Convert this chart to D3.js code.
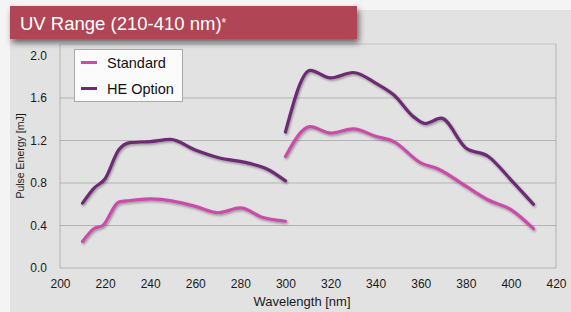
<!DOCTYPE html>
<html>
<head>
<meta charset="utf-8">
<script src="https://cdn.jsdelivr.net/npm/d3@7"></script>
<style>
  body { margin: 0; background: #f4f4f4; }
  svg { display: block; font-family: "Liberation Sans", Arial, sans-serif; }
</style>
</head>
<body>
<div id="chart"></div>
<script>
// Values
const seriesNames = ["Standard", "HE Option"];
const seriesColors = ["#cb4bab", "#6d2a74"];

const stdWave1 = [210, 215, 219, 226, 231, 240, 250, 260, 270, 280, 290, 300];
const stdEnergy1 = [0.25, 0.37, 0.40, 0.62, 0.635, 0.65, 0.63, 0.58, 0.52, 0.565, 0.475, 0.44];
const stdWave2 = [300, 311, 320, 330, 340, 348, 360, 368, 380, 390, 400, 410];
const stdEnergy2 = [1.05, 1.33, 1.27, 1.31, 1.24, 1.19, 0.99, 0.93, 0.77, 0.64, 0.55, 0.37];

const heWave1 = [210, 215, 220, 226, 231, 240, 249, 260, 270, 284, 292, 300];
const heEnergy1 = [0.61, 0.75, 0.84, 1.11, 1.18, 1.19, 1.21, 1.11, 1.04, 0.985, 0.93, 0.82];
const heWave2 = [300, 311, 320, 330, 340, 348, 357, 362, 369, 380, 390, 400, 410];
const heEnergy2 = [1.28, 1.86, 1.79, 1.84, 1.74, 1.63, 1.42, 1.36, 1.41, 1.13, 1.05, 0.83, 0.60];

const xTicks = [200, 220, 240, 260, 280, 300, 320, 340, 360, 380, 400, 420];
const yTicks = [0.0, 0.4, 0.8, 1.2, 1.6, 2.0];
const title = "UV Range (210-410 nm)";
const xLabel = "Wavelength [nm]";
const yLabel = "Pulse Energy [mJ]";

const width = 571, height = 312;
const plotLeft = 60, plotRight = 556, plotBottom = 268, plotTop = 55.5;

const svg = d3.select("#chart").append("svg")
    .attr("width", width)
    .attr("height", height);

const defs = svg.append("defs");
defs.append("filter").attr("id", "bannerShadow")
    .attr("x", "-10%").attr("y", "-30%").attr("width", "130%").attr("height", "180%")
    .append("feDropShadow")
    .attr("dx", 2).attr("dy", 4).attr("stdDeviation", 3)
    .attr("flood-color", "#000").attr("flood-opacity", 0.55);
defs.append("filter").attr("id", "lineShadow")
    .attr("x", "-10%").attr("y", "-10%").attr("width", "120%").attr("height", "130%")
    .append("feDropShadow")
    .attr("dx", 1).attr("dy", 1.5).attr("stdDeviation", 1)
    .attr("flood-color", "#000").attr("flood-opacity", 0.35);

// panel
svg.append("rect")
    .attr("x", 10).attr("y", 10)
    .attr("width", width - 10).attr("height", height - 10)
    .attr("fill", "#e2e2e2");

let x = d3.scaleLinear().domain([200, 420]).range([plotLeft, plotRight]);
let y = d3.scaleLinear().domain([0, 2]).range([plotBottom, plotTop]);

// gridlines
svg.append("g")
    .selectAll("line")
    .data(yTicks.filter(d => d > 0 && d < 2))
    .enter()
    .append("line")
    .attr("x1", plotLeft).attr("x2", plotRight)
    .attr("y1", d => y(d)).attr("y2", d => y(d))
    .style("stroke", "#b3b3b3")
    .style("stroke-width", 1);

// frame
svg.append("path")
    .attr("d", `M${plotLeft},44V${plotBottom}H${plotRight}V44`)
    .style("fill", "none")
    .style("stroke", "#b3b3b3")
    .style("stroke-width", 1);
svg.append("line")
    .attr("x1", plotLeft).attr("x2", plotRight).attr("y1", 44).attr("y2", 44)
    .style("stroke", "#c4c4c4");

// axes labels via d3 axes
let xAxis = svg.append("g")
    .attr("transform", `translate(0,${plotBottom})`)
    .call(d3.axisBottom(x).tickValues(xTicks).tickSize(0).tickPadding(11).tickFormat(d3.format("d")));
xAxis.select(".domain").remove();
xAxis.selectAll("text").style("font-size", "12px").style("fill", "#1a1a1a").style("font-family", "Liberation Sans, Arial, sans-serif");

let yAxis = svg.append("g")
    .attr("transform", `translate(${plotLeft},0)`)
    .call(d3.axisLeft(y).tickValues(yTicks).tickSize(0).tickPadding(13).tickFormat(d3.format(".1f")));
yAxis.select(".domain").remove();
yAxis.selectAll("text").style("font-size", "12px").style("fill", "#1a1a1a").style("font-family", "Liberation Sans, Arial, sans-serif");

svg.append("text")
    .attr("x", 302).attr("y", 306)
    .attr("text-anchor", "middle")
    .style("font-size", "13px").style("fill", "#1a1a1a")
    .text(xLabel);

svg.append("text")
    .attr("transform", "translate(24,156) rotate(-90)")
    .attr("text-anchor", "middle")
    .style("font-size", "10.5px").style("fill", "#1a1a1a")
    .text(yLabel);

// lines
let line = d3.line()
    .x(d => x(d[0]))
    .y(d => y(d[1]))
    .curve(d3.curveMonotoneX);

const segments = [
    {s: 0, w: stdWave1, e: stdEnergy1},
    {s: 0, w: stdWave2, e: stdEnergy2},
    {s: 1, w: heWave1, e: heEnergy1},
    {s: 1, w: heWave2, e: heEnergy2}
];

svg.append("g")
    .attr("filter", "url(#lineShadow)")
    .selectAll("path")
    .data(segments)
    .enter()
    .append("path")
    .attr("d", d => line(d.w.map((v, i) => [v, d.e[i]])))
    .style("fill", "none")
    .style("stroke", d => seriesColors[d.s])
    .style("stroke-width", 3.2)
    .style("stroke-linecap", "round")
    .style("stroke-linejoin", "round");

// legend
let legend = svg.append("g");
legend.append("rect")
    .attr("x", 74.5).attr("y", 49.5)
    .attr("width", 108).attr("height", 52)
    .style("fill", "#fbfbfb")
    .style("stroke", "#a8a8a8");
legend.selectAll("line")
    .data(seriesNames)
    .enter()
    .append("line")
    .attr("x1", 81).attr("x2", 97)
    .attr("y1", (d, i) => 62.5 + i * 26).attr("y2", (d, i) => 62.5 + i * 26)
    .style("stroke", (d, i) => seriesColors[i])
    .style("stroke-width", 3);
legend.selectAll("text")
    .data(seriesNames)
    .enter()
    .append("text")
    .attr("x", 107)
    .attr("y", (d, i) => 67.5 + i * 26)
    .style("font-size", "14.5px").style("fill", "#111")
    .text(d => d);

// title banner
svg.append("rect")
    .attr("x", 10).attr("y", 6)
    .attr("width", 347).attr("height", 33)
    .attr("fill", "#b04555")
    .attr("filter", "url(#bannerShadow)");
let t = svg.append("text")
    .attr("x", 20).attr("y", 29.5)
    .style("font-size", "18.5px").style("fill", "#ffffff")
    .text(title);
t.append("tspan")
    .attr("dy", -3)
    .style("font-size", "12px")
    .text("*");
</script>
</body>
</html>
